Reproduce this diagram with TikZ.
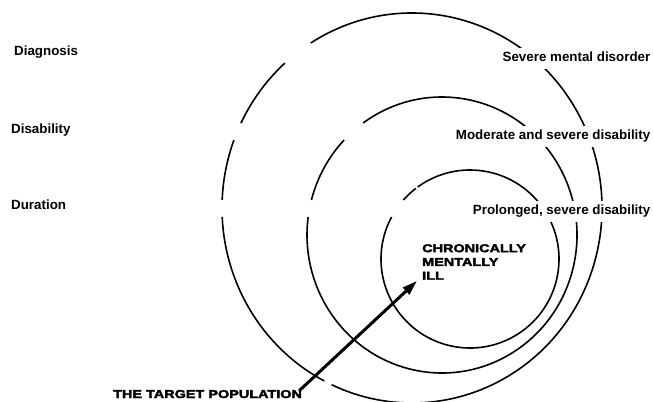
\documentclass[tikz,border=0pt]{standalone}
\usepackage{fontspec}
\setmainfont{Liberation Sans}
\newfontfamily\heavyfont{Liberation Sans}[UprightFont={* Bold}, FakeStretch=1.26, FakeBold=3]
\usetikzlibrary{arrows.meta}
\begin{document}
\begin{tikzpicture}[x=1bp,y=-1bp,
  ring/.style={line width=1.6bp, black},
  lbl/.style={font=\fontsize{13.4}{15}\selectfont\bfseries, inner sep=0pt},
  rlbl/.style={lbl, fill=white, inner xsep=2bp, inner ysep=4bp, text height=10bp, text depth=3bp, anchor=base east},
  heavy/.style={font=\fontsize{11.5}{13.8}\selectfont\heavyfont, inner sep=0pt},
  pointer/.style={line width=3bp, -{Triangle[length=15bp,width=9bp]}}]
\useasboundingbox (0,0) rectangle (653,401);

% outer ring: centre (412,208), radii 190 x 195
\draw[ring] (412,208) ++(182.4:190 and 195) arc[start angle=182.4, end angle=200.4, x radius=190, y radius=195];
\draw[ring] (412,208) ++(205.8:190 and 195) arc[start angle=205.8, end angle=228.0, x radius=190, y radius=195];
\draw[ring] (412,208) ++(237.8:190 and 195) arc[start angle=237.8, end angle=475.0, x radius=190, y radius=195];
\draw[ring] (412,208) ++(477.5:190 and 195) arc[start angle=477.5, end angle=537.4, x radius=190, y radius=195];

% middle ring: centre (442,235), radii 135 x 138
\draw[ring] (442,235) ++(194.7:135 and 138) arc[start angle=194.7, end angle=223.5, x radius=135, y radius=138];
\draw[ring] (442,235) ++(234.3:135 and 138) arc[start angle=234.3, end angle=547.5, x radius=135, y radius=138];

% inner ring: centre (470,259), radius 89
\draw[ring] (470,259) ++(221.5:89 and 89) arc[start angle=221.5, end angle=232.5, x radius=89, y radius=89];
\draw[ring] (470,259) ++(234.0:89 and 89) arc[start angle=234.0, end angle=568.2, x radius=89, y radius=89];

% left labels
\node[lbl, anchor=base west] (diag) at (14,55.5) {Diagnosis};
\node[lbl, anchor=base west] (disab) at (11,133) {Disability};
\node[lbl, anchor=base west] (dur) at (11,209.5) {Duration};

% right labels
\node[rlbl] (severe) at (652.5,61.7) {Severe mental disorder};
\node[rlbl] (moderate) at (652.5,139.5) {Moderate and severe disability};
\node[rlbl] (prolonged) at (652.5,214.5) {Prolonged, severe disability};

% centre and target
\node[heavy, align=left, anchor=north west] (chronic) at (422,244) {CHRONICALLY\\MENTALLY\\ILL};
\node[heavy, anchor=base west] (target) at (113,398) {THE TARGET POPULATION};

\draw[pointer] ([xshift=-3bp,yshift=-1bp]target.north east) -- ([xshift=-5bp,yshift=-1bp]chronic.south west);
\end{tikzpicture}
\end{document}
